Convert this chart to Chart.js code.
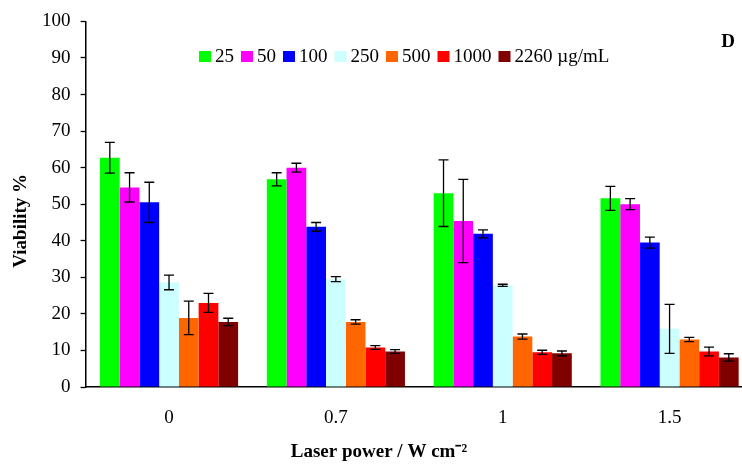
<!DOCTYPE html>
<html>
<head>
<meta charset="utf-8">
<script src="https://cdn.jsdelivr.net/npm/chart.js@4/dist/chart.umd.min.js"></script>
<style>
  html, body { margin: 0; padding: 0; background: #fff; overflow: hidden; }
  #wrap { width: 742px; height: 465px; position: relative; overflow: hidden; }
</style>
</head>
<body>
<div id="wrap"><canvas id="c" width="753" height="465"></canvas></div>
<script>
const categories = ["0", "0.7", "1", "1.5"];
const seriesNames = ["25", "50", "100", "250", "500", "1000", "2260 \u00b5g/mL"];
const seriesColors = ["#00FF00", "#FF00FF", "#0000FF", "#CCFFFF", "#FF6600", "#FF0000", "#800000"];

const v25   = [62.7, 56.8, 53.0, 51.6];
const v50   = [54.6, 60.0, 45.4, 50.0];
const v100  = [50.5, 43.8, 41.9, 39.5];
const v250  = [28.6, 29.5, 27.8, 15.9];
const v500  = [18.9, 17.8, 13.8, 13.0];
const v1000 = [23.0, 10.8, 9.5, 9.7];
const v2260 = [17.8, 9.7, 9.2, 8.1];

const e25   = [4.2, 1.8, 9.1, 3.3];
const e50   = [4.0, 1.2, 11.4, 1.5];
const e100  = [5.5, 1.2, 1.1, 1.5];
const e250  = [2.0, 0.7, 0.3, 6.7];
const e500  = [4.6, 0.6, 0.7, 0.6];
const e1000 = [2.6, 0.5, 0.55, 1.2];
const e2260 = [1.0, 0.5, 0.65, 1.0];

const yTicks = [0, 10, 20, 30, 40, 50, 60, 70, 80, 90, 100];

const values = [v25, v50, v100, v250, v500, v1000, v2260];
const errors = [e25, e50, e100, e250, e500, e1000, e2260];

const FONT = "'Liberation Serif', 'Times New Roman', serif";
const PAD = '\u00A0';

const errorBarPlugin = {
  id: 'errorBars',
  afterDatasetsDraw(chart) {
    const ctx = chart.ctx;
    const y = chart.scales.y;
    ctx.save();
    ctx.strokeStyle = '#000';
    ctx.lineWidth = 1.3;
    chart.data.datasets.forEach((ds, di) => {
      const meta = chart.getDatasetMeta(di);
      meta.data.forEach((bar, i) => {
        const v = ds.data[i], e = ds.errors[i];
        const yt = y.getPixelForValue(v + e);
        const yb = y.getPixelForValue(v - e);
        const x = bar.x;
        ctx.beginPath();
        ctx.moveTo(x, yt); ctx.lineTo(x, yb);
        ctx.moveTo(x - 5, yt); ctx.lineTo(x + 5, yt);
        ctx.moveTo(x - 5, yb); ctx.lineTo(x + 5, yb);
        ctx.stroke();
      });
    });
    ctx.restore();
  }
};

// legend drawn inside the plot area, in one row
const legendPlugin = {
  id: 'innerLegend',
  afterDraw(chart) {
    const ctx = chart.ctx;
    ctx.save();
    ctx.font = "19px " + FONT;
    ctx.textBaseline = 'middle';
    ctx.textAlign = 'left';
    let x = 199;
    const yc = 56.5;
    chart.data.datasets.forEach(ds => {
      ctx.fillStyle = ds.backgroundColor;
      ctx.fillRect(x, yc - 5.5, 12, 11);
      x += 16;
      ctx.fillStyle = '#000';
      ctx.fillText(ds.label, x, yc + 1);
      x += ctx.measureText(ds.label).width + 7;
    });
    ctx.font = "bold 19px " + FONT;
    ctx.textAlign = 'center';
    ctx.fillText('D', 728, 42);
    ctx.restore();
  }
};

new Chart(document.getElementById('c'), {
  type: 'bar',
  data: {
    labels: categories,
    datasets: values.map((vals, i) => ({
      label: seriesNames[i],
      data: vals,
      errors: errors[i],
      backgroundColor: seriesColors[i],
      borderWidth: 0,
      barPercentage: 1.0,
      categoryPercentage: 0.828
    }))
  },
  options: {
    responsive: false,
    animation: false,
    devicePixelRatio: 1,
    layout: { padding: { top: 17, right: 0, left: 0, bottom: 0 } },
    plugins: {
      legend: { display: false },
      tooltip: { enabled: false }
    },
    scales: {
      x: {
        grid: { display: false, drawTicks: false },
        border: { display: true, color: '#000', width: 1.5 },
        ticks: { color: '#000', font: { family: FONT, size: 19 }, padding: 20 },
        title: {
          display: true,
          text: 'Laser power / W cm\u207B\u00B2' + PAD.repeat(17),
          color: '#000',
          font: { family: FONT, size: 19, weight: 'bold' },
          padding: { top: 0, bottom: 2 }
        },
        afterFit(scale) { scale.height = 78; }
      },
      y: {
        min: 0,
        max: 100,
        afterBuildTicks(scale) { scale.ticks = yTicks.map(v => ({ value: v })); },
        grid: { drawOnChartArea: false, drawTicks: true, tickLength: 5, color: '#000', tickWidth: 1.3 },
        border: { display: true, color: '#000', width: 1.5 },
        ticks: { color: '#000', font: { family: FONT, size: 19 }, padding: 10 },
        title: {
          display: true,
          text: 'Viability %' + PAD.repeat(7),
          color: '#000',
          font: { family: FONT, size: 19, weight: 'bold' },
          padding: { top: 10, bottom: 0 }
        },
        afterFit(scale) { scale.width = 85.6; }
      }
    }
  },
  plugins: [errorBarPlugin, legendPlugin]
});
</script>
</body>
</html>
